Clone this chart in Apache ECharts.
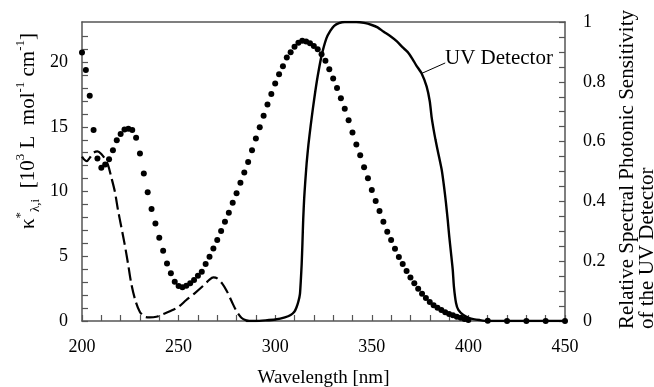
<!DOCTYPE html>
<html>
<head>
<meta charset="utf-8">
<script src="https://cdn.jsdelivr.net/npm/echarts@6/dist/echarts.min.js"></script>
<style>html,body{margin:0;padding:0;background:#fff}#c{width:654px;height:387px}</style>
</head>
<body>
<div id="c"></div>
<script>
// Dotted series: molar absorption coefficient (left axis, 10^3 L mol^-1 cm^-1)
var dotWl = [200,202,204,206,208,210,212,214,216,218,220,222,224,226,228,230,232,234,236,238,240,242,244,246,248,250,252,254,256,258,260,262,264,266,268,270,272,274,276,278,280,282,284,286,288,290,292,294,296,298,300,302,304,306,308,310,312,314,316,318,320,322,324,326,328,330,332,334,336,338,340,342,344,346,348,350,352,354,356,358,360,362,364,366,368,370,372,374,376,378,380,382,384,386,388,390,392,394,396,398,400,410,420,430,440,450];
var dotK = [20.75,19.4,17.4,14.75,12.56,11.84,12.1,12.5,13.2,13.97,14.44,14.8,14.85,14.75,14.16,12.95,11.4,9.94,8.65,7.54,6.43,5.43,4.45,3.68,3.03,2.7,2.6,2.73,2.91,3.17,3.5,3.81,4.4,4.97,5.6,6.25,6.95,7.67,8.36,9.14,9.86,10.68,11.48,12.28,13.2,14.1,14.96,15.85,16.73,17.53,18.35,19.07,19.69,20.36,20.77,21.18,21.5,21.65,21.6,21.45,21.25,21.0,20.6,20.1,19.44,18.74,18.0,17.2,16.39,15.5,14.57,13.64,12.8,11.87,11.02,10.12,9.27,8.49,7.67,6.9,6.25,5.58,4.94,4.4,3.86,3.37,2.91,2.49,2.11,1.78,1.47,1.21,1.03,0.85,0.67,0.54,0.44,0.33,0.25,0.15,0.08,0.02,0,0,0,0];

// Dashed series (left axis)
var dashWl = [200,201,202.5,204,206,208,210,212,213.5,215,217,218.6,220.3,222,223.8,225.5,227.6,229.9,232.5,235,238.5,242,245.5,249.7,254,258.3,262.6,266,268,270,272.5,275,277.5,280,282.5,285,287];
var dashK = [12.7,12.5,12.35,12.6,13.0,13.1,12.9,12.5,12.05,11.2,10.0,8.6,7.3,6.0,4.45,2.9,1.6,0.72,0.33,0.28,0.33,0.54,0.75,1.06,1.62,2.14,2.7,3.2,3.37,3.3,2.9,2.3,1.5,0.75,0.25,0.05,0];

// UV detector relative spectral photonic sensitivity (right axis)
var detWl = [285,290,295,300,305,308,310,311,312,312.8,313.3,313.7,314.1,314.5,315,315.5,316.3,317.2,318.3,319.5,320.8,322.3,324.1,326.5,328.5,330.5,333,336,342,346,350,353,356,359.5,363,366,368.5,371,373,375.8,378.4,380,381,382,383,384.4,386.2,387.4,388.4,389.3,390.1,391,391.9,392.5,393.6,394.8,397.4,400.8,406,410,450];
var detR = [0,0,0.002,0.005,0.012,0.02,0.032,0.045,0.065,0.09,0.14,0.19,0.26,0.34,0.41,0.46,0.53,0.59,0.65,0.71,0.77,0.83,0.89,0.945,0.97,0.987,0.996,1.0,1.0,0.997,0.99,0.982,0.968,0.953,0.935,0.915,0.9,0.877,0.855,0.828,0.784,0.735,0.68,0.64,0.605,0.561,0.505,0.449,0.394,0.338,0.282,0.227,0.171,0.115,0.06,0.037,0.02,0.009,0.003,0,0];

// Axis tick labels and tick positions
var xTickLabels = [200,250,300,350,400,450];
var xTicks = [200,210,220,230,240,250,260,270,280,290,300,310,320,330,340,350,360,370,380,390,400,410,420,430,440,450];
var yLeftTickLabels = [0,5,10,15,20];
var yLeftTicks = [0,1,2,3,4,5,6,7,8,9,10,11,12,13,14,15,16,17,18,19,20,21,22];
var yRightTickLabels = [0,0.2,0.4,0.6,0.8,1];
var yRightTicks = [0,0.05,0.1,0.15,0.2,0.25,0.3,0.35,0.4,0.45,0.5,0.55,0.6,0.65,0.7,0.75,0.8,0.85,0.9,0.95,1];

var detectorLabel = 'UV Detector';
var leaderFrom = [375.8, 0.828];
var leaderTo = [388, 0.863];

function zip(a, b){ return a.map(function(v,i){ return [v, b[i]]; }); }

var FF = 'Liberation Serif';
var axisColor = '#555';
function tickStyle(vals){ return {show: true, inside: true, length: 6, customValues: vals, lineStyle: {color: axisColor, width: 1.2}}; }
function lineStyle(){ return {show: true, onZero: false, lineStyle: {color: axisColor, width: 1.5}}; }

var chart = echarts.init(document.getElementById('c'), null, {renderer:'canvas'});
chart.setOption({
  animation: false,
  backgroundColor: '#fff',
  grid: {left: 82, right: 89, top: 22, bottom: 66, show: false, containLabel: false, outerBoundsMode: 'none'},
  xAxis: [
    {
      type: 'value', min: 200, max: 450, position: 'bottom',
      axisLine: lineStyle(),
      axisTick: tickStyle(xTicks),
      axisLabel: {
        show: true, fontFamily: FF, fontSize: 18, color: '#000', margin: 17,
        customValues: xTickLabels, formatter: function(v){ return String(v); }
      },
      splitLine: {show: false},
      name: 'Wavelength [nm]', nameLocation: 'middle', nameGap: 48,
      nameTextStyle: {fontFamily: FF, fontSize: 19, color: '#000'}
    },
    {
      type: 'value', min: 200, max: 450, position: 'top',
      axisLine: lineStyle(),
      axisTick: {show: false}, axisLabel: {show: false}, splitLine: {show: false}
    }
  ],
  yAxis: [
    {
      type: 'value', min: 0, max: 23.1, position: 'left',
      axisLine: lineStyle(),
      axisTick: tickStyle(yLeftTicks),
      axisLabel: {
        show: true, fontFamily: FF, fontSize: 18, color: '#000', margin: 14,
        customValues: yLeftTickLabels, formatter: function(v){ return String(v); }
      },
      splitLine: {show: false}
    },
    {
      type: 'value', min: 0, max: 1, position: 'right',
      axisLine: lineStyle(),
      axisTick: tickStyle(yRightTicks),
      axisLabel: {
        show: true, fontFamily: FF, fontSize: 18, color: '#000', margin: 18,
        customValues: yRightTickLabels, formatter: function(v){ return String(v); }
      },
      splitLine: {show: false}
    }
  ],
  series: [
    {
      type: 'scatter', yAxisIndex: 0, data: zip(dotWl, dotK),
      symbol: 'circle', symbolSize: 6, itemStyle: {color: '#000', opacity: 1}, z: 3
    },
    {
      type: 'line', yAxisIndex: 0, data: zip(dashWl, dashK),
      showSymbol: false, smooth: 0.3,
      lineStyle: {color: '#000', width: 2.2, type: [13, 5]}, z: 2
    },
    {
      type: 'line', yAxisIndex: 1, data: zip(detWl, detR),
      showSymbol: false, smooth: 0.2,
      lineStyle: {color: '#000', width: 2.4}, z: 2,
      markLine: {
        silent: true, symbol: ['none','none'], animation: false,
        lineStyle: {color: '#000', width: 1, type: 'solid'},
        label: {show: false},
        data: [[{coord: leaderFrom}, {coord: leaderTo}]]
      }
    }
  ],
  graphic: [
    {
      type: 'text', left: 445, top: 48, z: 10,
      style: {text: detectorLabel, fontFamily: FF, fontSize: 21, fill: '#000'}
    },
    {
      type: 'text', x: 28, y: 131, rotation: Math.PI/2, z: 10,
      style: {
        text: '{m|κ}{sup|*}{sub|λ,i}{m|  [10}{sup|3}{m| L  mol}{sup|-1}{m| cm}{sup|-1}{m|]}',
        align: 'center', verticalAlign: 'middle', fill: '#000',
        rich: {
          m: {fontFamily: FF, fontSize: 21, lineHeight: 28, verticalAlign: 'middle', fill: '#000'},
          sup: {fontFamily: FF, fontSize: 13, lineHeight: 15, verticalAlign: 'top', fill: '#000'},
          sub: {fontFamily: FF, fontSize: 13, lineHeight: 13, verticalAlign: 'bottom', fill: '#000'}
        }
      }
    },
    {
      type: 'text', x: 637, y: 329, rotation: Math.PI/2, z: 10,
      style: {
        text: 'Relative Spectral Photonic Sensitivity\nof the UV Detector',
        align: 'left', verticalAlign: 'middle', fontFamily: FF, fontSize: 21, lineHeight: 20, fill: '#000'
      }
    }
  ]
});
</script>
</body>
</html>
